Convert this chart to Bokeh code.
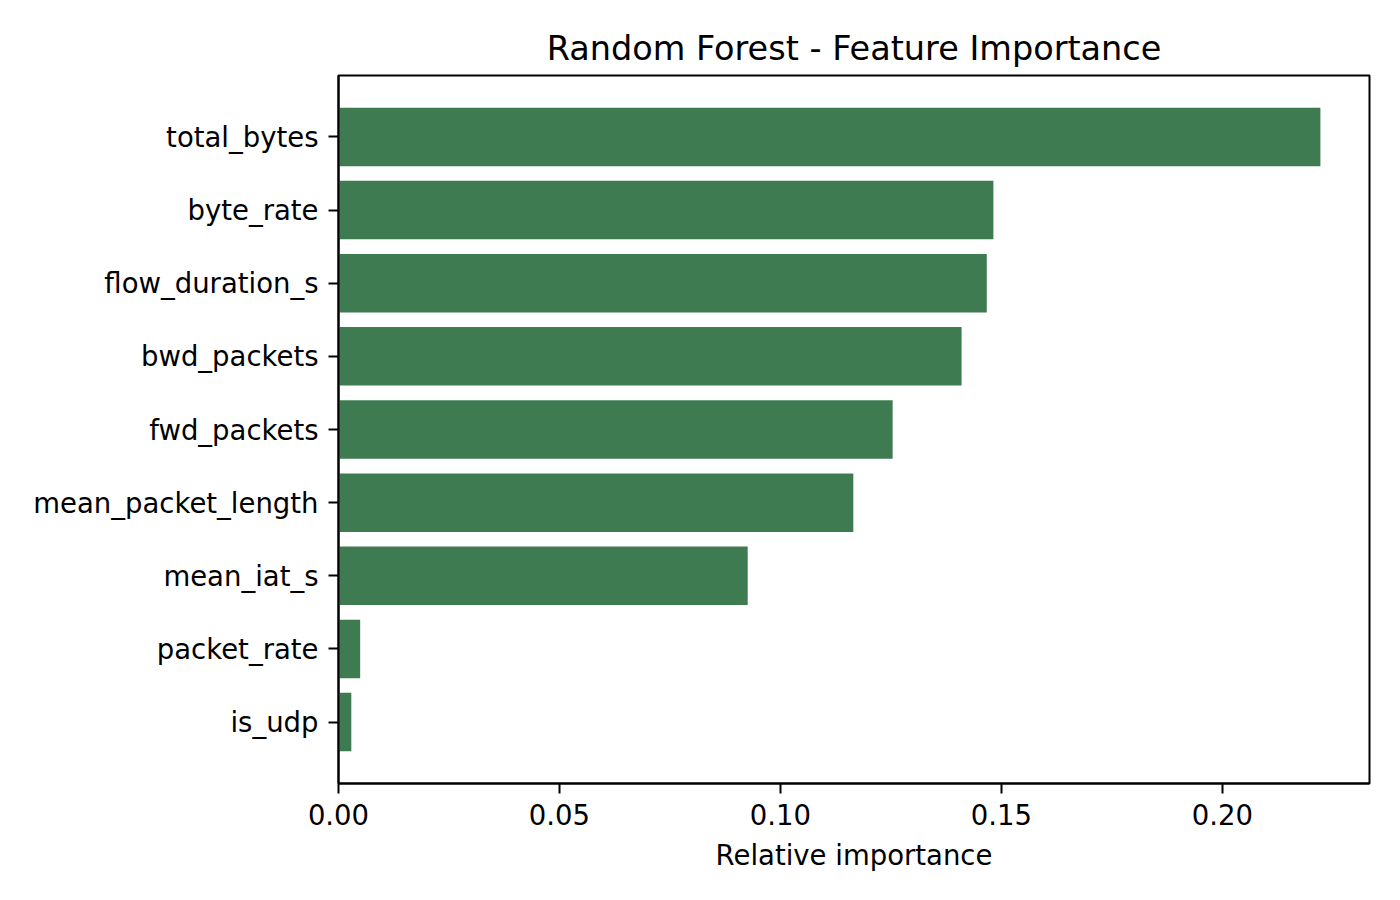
from bokeh.plotting import figure
from bokeh.models import Range1d, FixedTicker
from bokeh.embed import file_html
from bokeh.resources import INLINE

features = ["is_udp", "packet_rate", "mean_iat_s", "mean_packet_length", "fwd_packets",
            "bwd_packets", "flow_duration_s", "byte_rate", "total_bytes"]
importance = [0.0029, 0.0049, 0.0926, 0.1165, 0.1254, 0.1410, 0.1467, 0.1482, 0.2222]
x_ticks = [0.0, 0.05, 0.10, 0.15, 0.20]
x_tick_labels = ["0.00", "0.05", "0.10", "0.15", "0.20"]

FONT = "DejaVu Sans"
positions = list(range(len(features)))

p = figure(width=1384, height=884, output_backend="svg", toolbar_location=None,
           x_range=Range1d(0, max(importance) * 1.05),
           y_range=Range1d(-0.84, len(features) - 1 + 0.84),
           min_border_left=338, min_border_right=15, min_border_top=75, min_border_bottom=101,
           title="Random Forest - Feature Importance")

p.hbar(y=positions, right=importance, left=0, height=0.8, fill_color="#3F7B50", line_color=None)

p.title.align = "center"
p.title.text_font = FONT
p.title.text_font_size = "33.5px"
p.title.text_font_style = "normal"
p.title.text_color = "black"
p.title.standoff = 16

p.xgrid.visible = False
p.ygrid.visible = False

p.outline_line_color = "black"
p.outline_line_width = 2
p.outline_line_alpha = 1

for ax in (p.xaxis[0], p.yaxis[0]):
    ax.axis_line_width = 2
    ax.axis_line_color = "black"
    ax.major_tick_line_width = 2
    ax.major_tick_line_color = "black"
    ax.major_tick_out = 10
    ax.major_tick_in = 0
    ax.minor_tick_line_color = None
    ax.major_label_text_font = FONT
    ax.major_label_text_font_size = "27.5px"
    ax.major_label_text_color = "black"

p.yaxis[0].major_label_standoff = 10
p.xaxis[0].major_label_standoff = 10

p.xaxis[0].ticker = FixedTicker(ticks=x_ticks)
p.xaxis[0].major_label_overrides = {t: l for t, l in zip(x_ticks, x_tick_labels)}
p.xaxis[0].axis_label = "Relative importance"
p.xaxis[0].axis_label_text_font = FONT
p.xaxis[0].axis_label_text_font_size = "27.5px"
p.xaxis[0].axis_label_text_font_style = "normal"
p.xaxis[0].axis_label_text_color = "black"
p.xaxis[0].axis_label_standoff = 11

p.yaxis[0].ticker = FixedTicker(ticks=positions)
p.yaxis[0].major_label_overrides = {i: f for i, f in zip(positions, features)}

open("out.html", "w").write(file_html(p, INLINE))
